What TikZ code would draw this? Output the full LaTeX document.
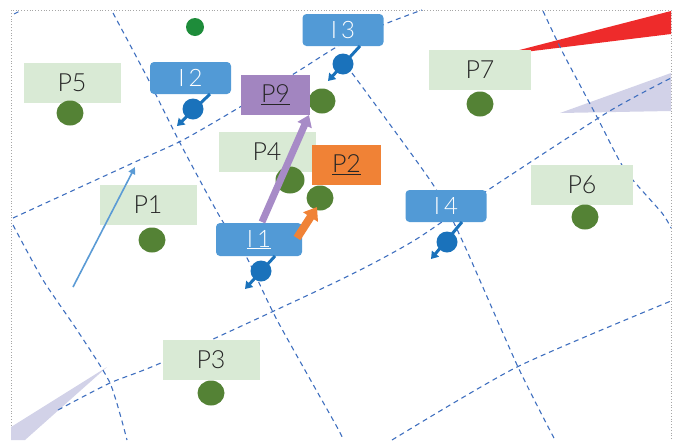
\documentclass[tikz,border=0pt]{standalone}
\usepackage{fontspec}
\setmainfont{Lato Light}
\usetikzlibrary{arrows.meta,shapes.geometric}
\definecolor{gridblue}{HTML}{3F6FBF}
\definecolor{pgreen}{HTML}{D9EAD5}
\definecolor{dotgreen}{HTML}{548235}
\definecolor{topdot}{HTML}{1E8C3A}
\definecolor{pviolet}{HTML}{A285C0}
\definecolor{porange}{HTML}{F08236}
\definecolor{iblue}{HTML}{529AD6}
\definecolor{ballblue}{HTML}{1A72BB}
\definecolor{parrow}{HTML}{A78BC7}
\definecolor{wedgered}{HTML}{EE2B2B}
\definecolor{lavender}{HTML}{D2D2E8}
\definecolor{thinblue}{HTML}{5B9BD5}
\definecolor{txt}{HTML}{262626}
\begin{document}
\begin{tikzpicture}[x=1pt,y=-1pt,
  gridline/.style={draw=gridblue, dash pattern=on 5pt off 4pt, line width=1.1pt},
  pbox/.style={fill=pgreen, minimum width=97pt, minimum height=40pt, inner sep=0pt, text=txt, font=\fontsize{25}{25}\selectfont},
  cbox/.style={minimum width=69pt, minimum height=40pt, inner sep=0pt, text=txt, font=\fontsize{25}{25}\selectfont},
  ibox/.style={fill=iblue, rounded corners=4pt, minimum width=81pt, minimum height=32pt, inner sep=0pt, text=white, font=\fontsize{24}{24}\selectfont},
  gdot/.style={ellipse, fill=dotgreen, minimum width=27pt, minimum height=25pt, inner sep=0pt},
  ball/.style={circle, fill=ballblue, minimum size=21pt, inner sep=0pt},
  balllink/.style={draw=ballblue, line width=3pt, -{Triangle[width=9pt,length=7pt]}},
]
\useasboundingbox (0,0) rectangle (675,440);
% frame
\draw[gray!70, dotted, line width=0.8pt] (11,445) -- (11,10) -- (671,10) -- (671,445);

% wedges
\fill[wedgered] (500,55) -- (671,11) -- (671,34) -- cycle;
\fill[lavender] (560,113) -- (671,73) -- (671,111) -- cycle;
\fill[lavender] (107,367) -- (11,427) -- (11,440) -- (25,440) -- cycle;

% dashed grid lines
\draw[gridline] plot[smooth, tension=0.4] coordinates {(13,218) (135,162) (183,140) (240,107) (300,70) (340,45) (385,24) (422,10)};
\draw[gridline] plot[smooth, tension=0.4] coordinates {(58,410) (110,383) (163,362) (340,280) (415,240) (488,190) (608,112) (671,78)};
\draw[gridline] plot[smooth, tension=0.4] coordinates {(392,440) (517,367) (671,301)};
\draw[gridline] plot[smooth, tension=0.4] coordinates {(113,13) (147,77) (180,143) (220,217) (247,258) (277,320) (337,427) (343,440)};
\draw[gridline] plot[smooth, tension=0.4] coordinates {(13,225) (43,280) (77,330) (110,383) (127,440)};
\draw[gridline] plot[smooth, tension=0.4] coordinates {(352,73) (432,183) (462,240) (518,367) (555,440)};
\draw[gridline] plot[smooth, tension=0.4] coordinates {(543,11) (563,53) (597,117) (625,170) (662,213) (671,228)};
\draw[gridline] (14,14) -- (22,10);

% light green label boxes
\node[pbox] (p5) at (72,83) {P5};
\node[pbox] (p1) at (148,205) {P1};
\node[pbox] (p4) at (267,152) {P4};
\node[pbox] (p3) at (211,360) {P3};
\node[pbox, minimum width=102pt] (p7) at (480,70) {P7};
\node[pbox, minimum width=102pt] (p6) at (582,185) {P6};

% green dots
\node[gdot] (d5) at (70,113) {};
\node[gdot] (d1) at (152,240) {};
\node[gdot, minimum width=29pt, minimum height=27pt] (d4) at (290,180) {};
\node[gdot] (d2) at (320,198) {};
\node[gdot] (d9) at (322,101) {};
\node[gdot] (d3) at (211,393) {};
\node[gdot] (d7) at (480,104) {};
\node[gdot] (d6) at (585,217) {};
\node[circle, fill=topdot, minimum size=18pt, inner sep=0pt] (dtop) at (195,27) {};

% coloured boxes
\node[cbox, fill=pviolet] (p9) at (275.5,95) {\underline{P9}};
\node[cbox, fill=porange] (p2) at (346.5,165) {\underline{P2}};

% I boxes
\node[ibox, minimum width=86pt, minimum height=33pt] (i1) at (259,239.5) {\underline{I\,1}};
\node[ibox] (i2) at (190.5,78) {I\,2};
\node[ibox] (i3) at (343,30) {I\,3};
\node[ibox] (i4) at (446,206) {I\,4};

% ball links
\coordinate (i1s) at (275,256); \coordinate (i1t) at (245,289);
\coordinate (i2s) at (210,94);  \coordinate (i2t) at (177,126);
\coordinate (i3s) at (360,46);  \coordinate (i3t) at (328,81);
\coordinate (i4s) at (462,222); \coordinate (i4t) at (431,259);
\draw[balllink] (i1s) -- (i1t);
\draw[balllink] (i2s) -- (i2t);
\draw[balllink] (i3s) -- (i3t);
\draw[balllink] (i4s) -- (i4t);
\node[ball] (b1) at (261,271) {};
\node[ball] (b2) at (193,109) {};
\node[ball] (b3) at (343,64) {};
\node[ball] (b4) at (447,242) {};

% arrows
\coordinate (a1s) at (262,222); \coordinate (a1t) at (309,115);
\draw[parrow, line width=7pt, -{Triangle[width=15pt,length=11pt]}] (a1s) -- (a1t);
\coordinate (a2s) at (297,238); \coordinate (a2t) at (317,207);
\draw[porange, line width=8pt, -{Triangle[width=17pt,length=12pt]}] (a2s) -- (a2t);
\coordinate (a3s) at (73,287); \coordinate (a3t) at (135,167);
\draw[thinblue, line width=1.6pt, -{Triangle[width=7pt,length=7pt]}] (a3s) -- (a3t);
\end{tikzpicture}
\end{document}
